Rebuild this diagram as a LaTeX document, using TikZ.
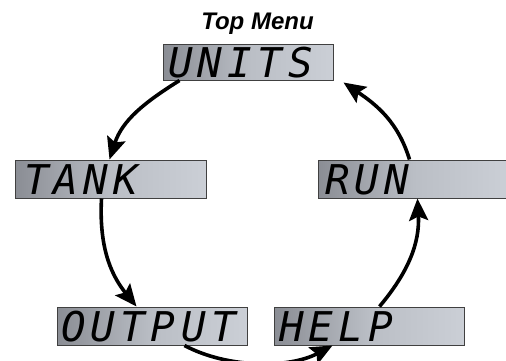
\documentclass[tikz,border=0pt]{standalone}
\usepackage{fontspec}
\usetikzlibrary{arrows.meta}
\newfontfamily\lcdfont[LetterSpace=13]{DejaVu Sans Mono}
\newfontfamily\titlefont{Liberation Sans}
\definecolor{lcdL}{RGB}{138,141,148}
\definecolor{lcdR}{RGB}{203,207,214}
\definecolor{lcdM}{RGB}{186,190,197}
\tikzset{
  lcd/.style={draw=black!75, line width=1pt, left color=lcdL, right color=lcdR, middle color=lcdM,
    inner xsep=4pt, inner ysep=4pt, text height=30pt, text depth=0pt, align=left,
    font=\lcdfont\itshape\fontsize{41}{41}\selectfont},
  flow/.style={line width=3.6pt, -{Stealth[length=22pt,width=19pt,inset=4pt]}},
  ttl/.style={font=\titlefont\bfseries\itshape\fontsize{24}{24}\selectfont, anchor=base, inner sep=0pt}
}
\begin{document}
\begin{tikzpicture}[x=1pt,y=1pt]
\useasboundingbox (0,0) rectangle (506,360);
\node[ttl] (title) at (257.5,331) {Top Menu};
\node[lcd, text width=160pt, inner xsep=5pt, inner ysep=3pt] (units) at (248,298) {UNITS};
\node[lcd, text width=173pt, inner xsep=9pt] (tank) at (110.5,181) {TANK};
\node[lcd, text width=176pt, inner xsep=7pt] (run) at (413,181) {RUN};
\node[lcd, text width=182pt] (output) at (152,34) {OUTPUT};
\node[lcd, text width=180pt, inner xsep=5pt] (help) at (369,34) {HELP};
\draw[flow] ([xshift=17pt]units.south west) to[out=212,in=72] ([xshift=95pt]tank.north west);
\draw[flow] ([xshift=87pt]tank.south west) to[out=267,in=129] ([xshift=80pt]output.north west);
\draw[flow] ([xshift=128pt]output.south west) to[out=332,in=208,looseness=0.85] ([xshift=59pt]help.south west);
\draw[flow] ([xshift=106pt]help.north west) to[out=50,in=273] ([xshift=100pt]run.south west);
\draw[flow] ([xshift=92pt]run.north west) to[out=107,in=326] ([xshift=10pt,yshift=-2pt]units.south east);
\end{tikzpicture}
\end{document}
